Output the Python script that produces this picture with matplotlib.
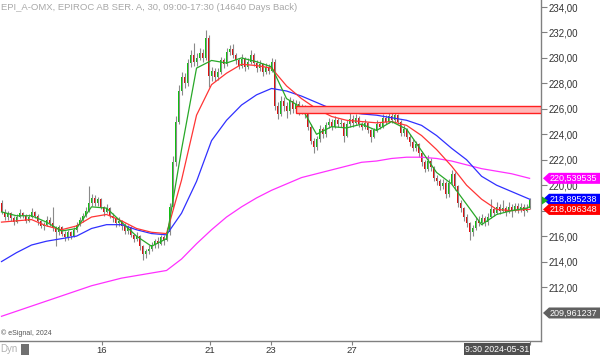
import matplotlib
matplotlib.use("Agg")
import matplotlib.pyplot as plt
from matplotlib.patches import Polygon, Rectangle
import numpy as np

# ---------------- data ----------------
title = "EPI_A-OMX, EPIROC AB SER. A, 30, 09:00-17:30 (14640 Days Back)"
open_first = 218.6
close = [217.9, 217.5, 217.8, 217.4, 217.1, 217.5, 217.8, 217.6, 217.2, 217.5,
         217.9, 217.6, 217.2, 216.8, 216.9, 217.3, 217.0, 216.6, 216.3, 216.7,
         216.2, 215.9, 216.3, 216.0, 216.5, 216.9, 217.3, 217.6, 218.0, 218.6,
         219.0, 218.6, 218.9, 218.3, 217.9, 218.2, 217.6, 217.4, 217.0, 217.2,
         216.8, 216.4, 216.7, 216.1, 215.8, 216.0, 215.2, 214.6, 214.8, 215.0,
         215.3, 215.6, 215.4, 215.9, 215.7, 216.3, 218.3, 221.8, 225.0, 227.4,
         228.5, 228.0, 229.6, 230.2, 229.7, 230.0, 230.4, 230.0, 231.6, 228.6,
         229.0, 228.5, 228.9, 229.8, 229.5, 230.5, 230.7, 230.2, 229.8, 229.4,
         229.9, 229.3, 229.7, 230.2, 229.6, 229.2, 229.5, 228.9, 229.3, 229.0,
         229.7, 226.2, 225.6, 226.6, 226.2, 225.8, 226.6, 226.0, 226.4, 225.8,
         226.1, 225.6, 224.6, 223.5, 223.0, 223.6, 224.4, 224.0, 224.7, 225.0,
         224.6, 225.1, 224.8, 224.9, 223.9, 224.8, 225.2, 224.9, 225.3, 224.8,
         224.6, 224.9, 224.3, 223.8, 224.3, 224.8, 224.6, 225.3, 225.0, 225.4,
         225.1, 225.5, 225.0, 224.1, 224.4, 223.8, 223.4, 222.9, 223.2, 222.5,
         221.8, 221.3, 221.9, 221.4, 220.6, 220.3, 219.9, 220.2, 219.3, 220.2,
         220.9, 219.9, 218.6, 218.2, 217.5, 217.0, 216.3, 216.6, 217.2, 217.0,
         217.4, 217.1, 217.5, 218.1, 217.8, 218.3, 218.0, 218.2, 217.9, 218.3,
         218.0, 218.4, 218.1, 218.3, 218.0, 218.2, 218.8]
high = [218.8, 218.1, 218.0, 217.9, 217.6, 217.7, 218.1, 217.9, 217.7, 217.7,
        218.2, 218.0, 217.7, 217.3, 217.1, 217.6, 217.5, 218.3, 216.8, 216.9,
        216.8, 216.4, 216.5, 216.4, 216.7, 217.1, 217.5, 217.8, 218.3, 219.9,
        219.3, 219.2, 219.1, 219.0, 218.4, 218.5, 218.3, 217.8, 217.5, 217.5,
        217.3, 217.0, 216.9, 216.8, 216.2, 216.3, 216.1, 215.3, 215.0, 215.3,
        215.5, 215.8, 215.9, 216.1, 216.1, 216.6, 218.6, 222.3, 225.4, 227.9,
        228.9, 228.8, 229.9, 230.6, 231.2, 230.4, 230.8, 230.7, 232.2, 231.8,
        229.3, 229.2, 229.2, 230.1, 230.0, 230.8, 231.0, 231.1, 230.4, 230.0,
        230.3, 230.1, 230.0, 230.6, 230.4, 229.8, 229.8, 229.6, 229.6, 229.5,
        230.0, 229.9, 226.5, 227.0, 226.9, 226.5, 226.9, 226.8, 226.7, 226.6,
        226.4, 226.3, 225.8, 224.8, 223.7, 223.9, 224.7, 224.6, 225.0, 225.3,
        225.2, 225.4, 225.3, 225.2, 225.0, 225.1, 226.1, 225.5, 225.6, 225.4,
        225.0, 225.2, 225.0, 224.4, 224.5, 225.1, 225.0, 225.6, 225.5, 225.7,
        225.9, 225.8, 225.6, 225.1, 224.7, 224.5, 224.0, 223.6, 223.5, 223.3,
        222.7, 222.0, 222.4, 222.1, 221.5, 220.8, 220.5, 220.5, 220.3, 220.5,
        221.2, 221.0, 220.0, 218.8, 218.3, 217.7, 217.1, 216.9, 217.5, 217.6,
        217.7, 217.6, 217.8, 218.9, 218.3, 218.7, 218.5, 218.8, 218.4, 218.7,
        218.5, 218.6, 218.6, 218.6, 218.5, 218.5, 219.0]
low = [217.7, 217.3, 217.3, 217.2, 216.9, 217.0, 217.4, 217.4, 217.0, 217.1,
       217.4, 217.4, 216.9, 216.6, 216.5, 216.8, 216.8, 216.4, 215.2, 216.1,
       216.0, 215.6, 215.7, 215.8, 215.9, 216.3, 216.8, 217.1, 217.5, 217.9,
       218.4, 218.4, 218.4, 218.1, 217.6, 217.8, 217.4, 217.1, 216.7, 216.8,
       216.5, 216.2, 216.2, 215.9, 215.5, 215.6, 214.9, 214.1, 214.3, 214.6,
       214.8, 215.1, 215.1, 215.3, 215.3, 215.6, 216.1, 218.1, 221.5, 224.8,
       227.1, 227.6, 227.8, 229.3, 229.4, 229.4, 229.8, 229.7, 229.8, 227.7,
       228.2, 228.2, 228.3, 228.7, 229.2, 229.4, 230.2, 230.0, 229.5, 229.1,
       229.2, 229.0, 229.1, 229.5, 229.4, 228.9, 229.0, 228.6, 228.7, 228.7,
       228.9, 225.9, 225.2, 225.4, 225.8, 225.3, 225.6, 225.7, 225.8, 225.5,
       225.6, 225.3, 224.3, 223.2, 222.5, 222.8, 223.4, 223.7, 223.8, 224.5,
       224.3, 224.5, 224.6, 224.6, 223.4, 223.8, 224.6, 224.6, 224.7, 224.6,
       224.3, 224.4, 224.1, 223.4, 223.7, 224.2, 224.4, 224.5, 224.8, 224.9,
       224.9, 225.0, 224.8, 223.9, 223.9, 223.6, 223.1, 222.7, 222.7, 222.2,
       221.5, 221.0, 221.1, 221.1, 220.3, 220.0, 219.6, 219.7, 219.0, 219.1,
       220.0, 219.6, 218.3, 217.9, 217.2, 216.7, 215.7, 216.0, 216.5, 216.8,
       216.9, 216.8, 216.9, 217.4, 217.6, 217.7, 217.7, 217.9, 217.6, 217.8,
       217.5, 217.9, 217.8, 217.9, 217.6, 217.9, 218.1]

# moving averages, sampled every 5 bars (plus last bar)
ma_green = [217.9, 217.6, 217.6, 217.1, 216.4, 216.6, 218.3, 218.2, 217.1, 216.0,
            215.2, 215.8, 222.8, 229.2, 229.8, 229.6, 230.0, 229.7, 229.3, 226.8,
            226.1, 224.0, 224.6, 224.5, 224.8, 224.3, 225.0, 224.4, 222.7, 221.0,
            220.1, 218.5, 216.9, 217.7, 218.0, 218.2, 218.3]
ma_red = [217.1, 217.2, 217.3, 216.8, 216.5, 216.8, 217.5, 217.7, 217.2, 216.6,
          216.3, 216.2, 220.4, 225.5, 227.9, 228.8, 229.5, 229.4, 229.2, 227.8,
          226.8, 226.0, 225.4, 225.1, 225.0, 224.9, 225.0, 224.7, 223.9, 222.8,
          221.5, 220.0, 218.9, 218.1, 218.0, 218.1, 218.1]
ma_blue = [214.0, 214.7, 215.3, 215.6, 215.8, 216.0, 216.6, 216.9, 216.9, 216.5,
           216.2, 216.1, 217.8, 220.3, 223.5, 225.1, 226.3, 227.1, 227.6, 227.4,
           227.0, 226.5, 226.0, 225.8, 225.6, 225.5, 225.3, 225.1, 224.7, 223.9,
           222.9, 222.0, 220.7, 220.0, 219.5, 219.0, 218.9]
ma_magenta = [209.7, 210.1, 210.5, 210.9, 211.3, 211.7, 212.1, 212.4, 212.7, 212.9,
              213.1, 213.3, 214.2, 215.4, 216.5, 217.5, 218.3, 219.0, 219.6, 220.1,
              220.6, 220.9, 221.2, 221.5, 221.8, 221.9, 222.1, 222.2, 222.2, 222.1,
              221.9, 221.6, 221.3, 221.1, 220.9, 220.6, 220.54]

label_values = [220.539535, 218.895238, 218.096348, 209.961237]
label_texts = ["220,539535", "218,895238", "218,096348", "209,961237"]
label_colors = ["#ff00ff", "#0000ff", "#ff0000", "#606060"]

band_low, band_high, band_start = 225.65, 226.2, 98

day_ticks = [33.5, 69.5, 89.8, 116.8]
day_labels = ["16", "21", "23", "27"]
last_time_label = "9:30 2024-05-31"
y_ticks = [212, 214, 216, 218, 220, 222, 224, 226, 228, 230, 232, 234]
y_hidden = [218]   # tick label covered by the price labels in the original

# ---------------- figure ----------------
plt.rcParams["font.family"] = ["Liberation Sans", "DejaVu Sans"]
W, H = 600, 355
fig = plt.figure(figsize=(W / 100, H / 100), dpi=100)
fig.patch.set_facecolor("white")
ax = fig.add_axes([0, 1 - 341 / H, 541 / W, 341 / H])
ax.set_xlim(-0.5, 179.8)
ax.set_ylim(207.76, 234.55)

n = len(close)
x = np.arange(n)
opens = np.array([open_first] + close[:-1])
closes = np.array(close)

ax.vlines(x, low, high, color="#8a8a8a", lw=0.8, zorder=2)
up = closes >= opens
bot = np.minimum(opens, closes)
hgt = np.maximum(np.abs(closes - opens), 0.06)
ax.bar(x[up], hgt[up], bottom=bot[up], width=0.6, color="#10c010", lw=0, zorder=3)
ax.bar(x[~up], hgt[~up], bottom=bot[~up], width=0.6, color="#dd1010", lw=0, zorder=3)

ma_x = list(range(0, n - 1, 5)) + [n - 1]
ax.plot(ma_x, ma_magenta, color="#ff30ff", lw=0.9, zorder=4)
ax.plot(ma_x, ma_blue, color="#3030ff", lw=0.9, zorder=4)
ax.plot(ma_x, ma_red, color="#ff3535", lw=0.9, zorder=4)
ax.plot(ma_x, ma_green, color="#28a828", lw=0.9, zorder=4)

# resistance band
ax.add_patch(Rectangle((band_start, band_low), 179.8 - band_start, band_high - band_low,
                       facecolor="#ffb8b8", edgecolor="#ff2020", lw=1.0, zorder=5))

# axes styling
for s in ["left", "top"]:
    ax.spines[s].set_visible(False)
for s in ["right", "bottom"]:
    ax.spines[s].set_color("#808080")
    ax.spines[s].set_linewidth(1.0)
ax.yaxis.tick_right()
ax.set_yticks(y_ticks)
ax.set_yticklabels(["" if v in y_hidden else f"{v:.2f}".replace(".", ",")
                    for v in y_ticks])
ax.tick_params(axis="y", length=4, color="#808080", labelcolor="#333333",
               labelsize=7, pad=1.5)
ax.set_xticks(day_ticks + [n - 1])
ax.set_xticklabels(day_labels + [""])
ax.tick_params(axis="x", length=3, color="#808080", labelcolor="#333333",
               labelsize=6.8, pad=0.3)

# title and footer texts
fig.text(1 / W, 1 - 7 / H, title, fontsize=6.8, color="#a8a8a8", va="center", ha="left")
fig.text(1 / W, 1 - 333 / H, "© eSignal, 2024", fontsize=5, color="#555555",
         va="center", ha="left")
fig.text(0 / W, 1 - 349 / H, "Dyn", fontsize=7, color="#b0b0b0", va="center", ha="left")
fig.patches.append(Rectangle((21 / W, 1 - 355 / H), 8 / W, 11 / H, facecolor="#707070",
                             edgecolor="none", transform=fig.transFigure, figure=fig))
fig.text(497 / W, 1 - 349 / H, last_time_label, fontsize=6.3, color="white",
         va="center", ha="center",
         bbox=dict(boxstyle="square,pad=0.15", facecolor="#505050", edgecolor="none"))

# price labels on the right axis
fig.canvas.draw()
for v, t, c in zip(label_values, label_texts, label_colors):
    yp = ax.transData.transform((0, v))[1]
    h2 = 5.5
    pts = np.array([[543, yp], [549, yp + h2], [600, yp + h2], [600, yp - h2],
                    [549, yp - h2]]) / np.array([W, H])
    fig.patches.append(Polygon(pts, closed=True, facecolor=c, edgecolor="none",
                               transform=fig.transFigure, figure=fig, zorder=10))
    fig.text(550 / W, yp / H, t, fontsize=6.5, color="white", va="center", ha="left",
             zorder=11)

# last price marker
yl = ax.transData.transform((0, close[-1]))[1]
tri = np.array([[542, yl + 4], [542, yl - 4], [548, yl]]) / np.array([W, H])
fig.patches.append(Polygon(tri, closed=True, facecolor="#20b020", edgecolor="none",
                           transform=fig.transFigure, figure=fig, zorder=12))

fig.savefig("out.png", dpi=100)
